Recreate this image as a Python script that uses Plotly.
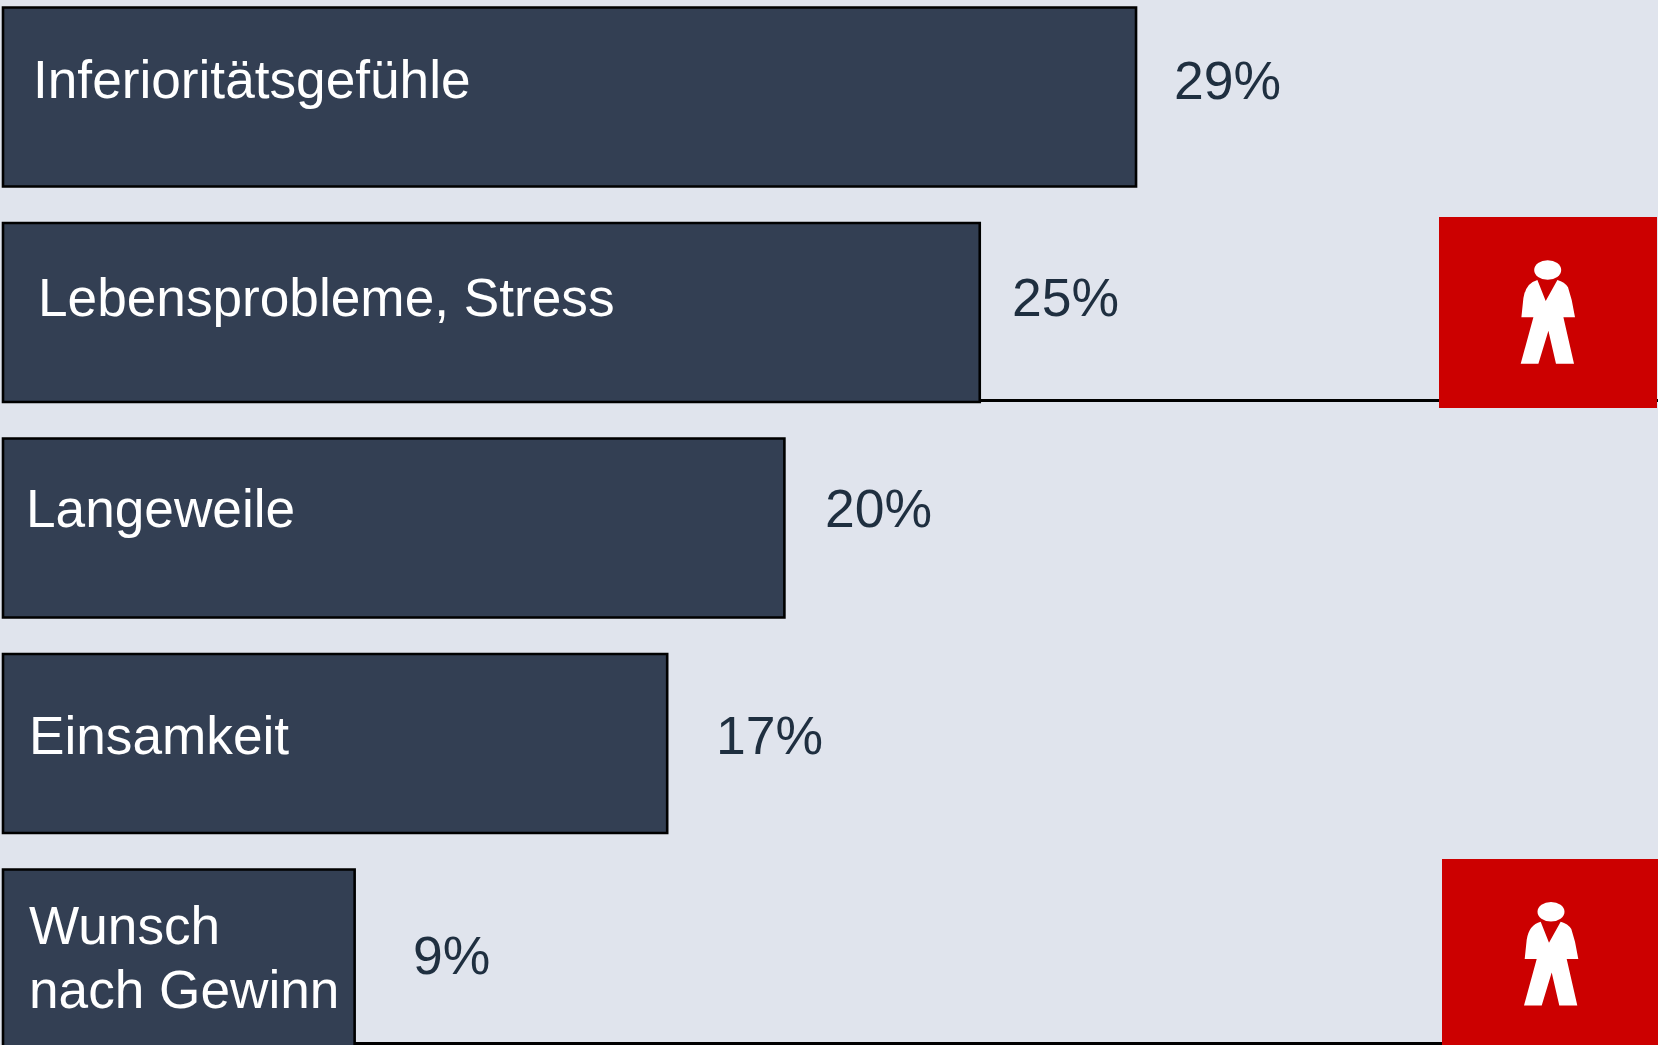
import plotly.graph_objects as go

# ---- data ----
categories = ["Inferioritätsgefühle", "Lebensprobleme, Stress", "Langeweile", "Einsamkeit", "Wunsch nach Gewinn"]
values = [29, 25, 20, 17, 9]
label_lines = [["Inferioritätsgefühle"], ["Lebensprobleme, Stress"], ["Langeweile"], ["Einsamkeit"], ["Wunsch", "nach Gewinn"]]
highlighted = ["Lebensprobleme, Stress", "Wunsch nach Gewinn"]

# ---- layout / styling (pixels of the 1658x1045 page) ----
W, H = 1658, 1045
BG, BAR, EDGE, RED = "#e0e4ed", "#333f53", "#000000", "#cc0000"
VALUE_COL = "#1f2f40"
FONT = "Liberation Sans"
FS_LABEL, FS_VALUE = 53.2, 53.5
X0_PX, X_SCALE = 3, 39.07
Y0_PX, Y_STEP = 97, 215.5

label_x_shift = [27.5, 33, 21, 23.5, 24]
label_y_shift = [[18], [15.5], [20], [8.5], [34, -30]]
value_x_shift = [36, 30, 38.5, 46.5, 56]
value_y_shift = [17, 15.5, 20, 8.5, 3.5]
box_px = [(1439, 217, 1657, 408), (1442, 859, 1660, 1050)]
rule_px = [400.5, 1043.5]
head_px = [(1547.7, 270), (1551, 911.7)]

BODY = [("M", -10.3, 10), ("L", -2, 31), ("L", 9.7, 10),
        ("Q", 17, 12, 20.3, 17.3), ("L", 24, 30), ("L", 27.3, 47.3), ("L", 15.7, 47.3),
        ("L", 26.3, 93.7), ("L", 8.3, 93.7), ("L", 0.7, 60.7), ("L", -9.3, 93.7), ("L", -27, 93.7),
        ("L", -14.3, 47.3), ("L", -26.3, 47.3), ("L", -24.3, 28), ("Q", -22, 13, -10.3, 10), ("Z",)]


def px(x):
    return x / W


def py(y):
    return 1 - y / H


def icon_path(cx, cy):
    out = []
    for seg in BODY:
        nums = seg[1:]
        coords = []
        for i in range(0, len(nums), 2):
            coords.append(f"{px(cx + nums[i]):.5f},{py(cy + nums[i + 1]):.5f}")
        out.append(seg[0] + " ".join(coords))
    return " ".join(out)


fig = go.Figure(go.Bar(
    x=values, y=categories, orientation="h",
    marker=dict(color=BAR, line=dict(color=EDGE, width=2.6)),
    hoverinfo="skip",
))

shapes = []
annotations = []
for i, cat in enumerate(categories):
    if cat in highlighted:
        k = highlighted.index(cat)
        shapes.append(dict(type="line", xref="x", yref="paper", x0=values[i], x1=42.5,
                           y0=py(rule_px[k]), y1=py(rule_px[k]), line=dict(color=EDGE, width=3)))
for k in range(len(highlighted)):
    x0, y0, x1, y1 = box_px[k]
    shapes.append(dict(type="rect", xref="paper", yref="paper", x0=px(x0), x1=px(x1), y0=py(y1), y1=py(y0),
                       fillcolor=RED, line=dict(width=0)))
    cx, cy = head_px[k]
    shapes.append(dict(type="circle", xref="paper", yref="paper", x0=px(cx - 13.5), x1=px(cx + 13.5),
                       y0=py(cy + 9.8), y1=py(cy - 9.8), fillcolor="#ffffff", line=dict(width=0)))
    shapes.append(dict(type="path", xref="paper", yref="paper", path=icon_path(cx, cy),
                       fillcolor="#ffffff", line=dict(width=0)))

for i, cat in enumerate(categories):
    for line, dy in zip(label_lines[i], label_y_shift[i]):
        annotations.append(dict(x=0, y=cat, xref="x", yref="y", text=line, showarrow=False,
                                xanchor="left", yanchor="middle", xshift=label_x_shift[i], yshift=dy,
                                font=dict(family=FONT, size=FS_LABEL, color="#ffffff")))
    annotations.append(dict(x=values[i], y=cat, xref="x", yref="y", text=f"{values[i]}%", showarrow=False,
                            xanchor="left", yanchor="middle", xshift=value_x_shift[i], yshift=value_y_shift[i],
                            font=dict(family=FONT, size=FS_VALUE, color=VALUE_COL)))

fig.update_layout(
    width=W, height=H, margin=dict(l=0, r=0, t=0, b=0, pad=0), autosize=False,
    paper_bgcolor=BG, plot_bgcolor=BG, showlegend=False, bargap=0.17,
    xaxis=dict(visible=False, range=[-X0_PX / X_SCALE, (W - X0_PX) / X_SCALE]),
    yaxis=dict(visible=False, type="category", categoryorder="array", categoryarray=categories,
               range=[(H - Y0_PX) / Y_STEP, -Y0_PX / Y_STEP]),
    shapes=shapes, annotations=annotations,
)
fig.write_html("out.html", post_script="document.body.style.margin='0';document.body.style.background='%s';" % BG,
               config=dict(displayModeBar=False))
